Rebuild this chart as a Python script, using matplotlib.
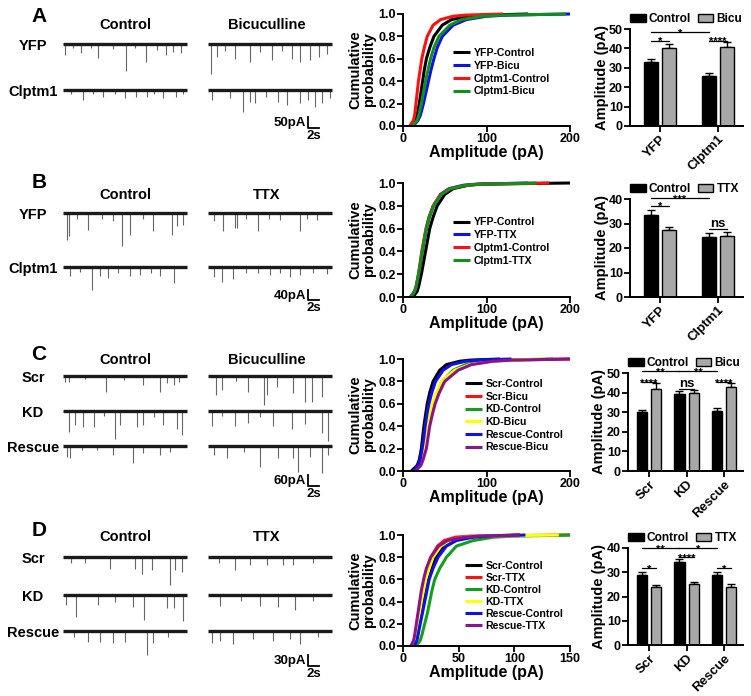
import numpy as np
import matplotlib
matplotlib.use("Agg")
import matplotlib.pyplot as plt
from matplotlib.patches import Patch

plt.rcParams['font.family'] = ['Liberation Sans', 'DejaVu Sans']
plt.rcParams['font.weight'] = 'bold'
plt.rcParams['axes.labelweight'] = 'bold'
plt.rcParams['axes.linewidth'] = 1.4

W, H = 751, 696

# ---------------- trace events: (time s, amplitude pA) ----------------
TRACE_DUR = 22.5
A_YFP_CTL = [(0.4, 50), (1.8, 20), (3.2, 42), (5.0, 18), (6.4, 65), (9.0, 22), (11.5, 121), (13.0, 20),
             (15.0, 80), (17.0, 25), (18.8, 50), (20.0, 35), (21.5, 42)]
A_CLP_CTL = [(1.5, 18), (3.6, 45), (5.5, 20), (7.3, 30), (9.5, 18), (11.2, 38), (13.3, 30), (15.2, 30),
             (16.5, 20), (18.1, 38), (20.6, 30), (21.8, 18)]
A_YFP_BIC = [(0.5, 136), (1.6, 60), (3.0, 30), (4.9, 68), (7.6, 82), (9.5, 35), (11.6, 73), (13.5, 30),
             (15.2, 68), (16.7, 82), (18.5, 73), (20.1, 60), (21.6, 45)]
A_CLP_BIC = [(0.7, 45), (4.0, 38), (6.3, 98), (7.6, 53), (8.5, 60), (10.5, 30), (12.8, 53), (14.3, 68),
             (16.7, 60), (18.2, 45), (19.5, 76), (20.7, 60), (22.2, 38)]

B_YFP_CTL = [(0.7, 107), (1.0, 93), (2.5, 25), (4.6, 67), (7.0, 25), (9.0, 30), (10.7, 133), (12.1, 87),
             (14.5, 25), (16.4, 73), (19.8, 87), (20.7, 53), (21.9, 47)]
B_YFP_TTX = [(1.0, 33), (2.8, 73), (4.9, 60), (5.3, 60), (7.0, 25), (9.1, 73), (11.0, 22), (13.1, 27),
             (16.7, 73), (18.0, 22), (19.8, 27)]
B_CLP_CTL = [(1.3, 37), (3.0, 20), (5.2, 91), (6.7, 37), (8.2, 44), (10.0, 22), (12.2, 37), (14.0, 31),
             (16.0, 22), (17.6, 37), (20.1, 64)]
B_CLP_TTX = [(1.0, 40), (2.5, 60), (4.6, 47), (7.0, 25), (9.0, 22), (11.3, 33), (13.0, 22), (14.9, 40),
             (16.7, 33), (19.0, 22), (21.6, 27)]

C_SCR_CTL = [(0.4, 31), (1.0, 31), (4.0, 15), (7.9, 86), (11.0, 20), (14.6, 49), (17.6, 86), (18.9, 40),
             (20.1, 49), (21.0, 31)]
C_SCR_BIC = [(1.5, 104), (2.5, 76), (5.0, 30), (7.3, 86), (10.1, 158), (10.7, 104), (12.5, 58), (15.5, 95),
             (17.6, 140), (18.9, 140), (20.7, 113)]
C_KD_CTL = [(1.0, 115), (2.2, 78), (3.7, 87), (5.6, 87), (7.5, 30), (9.5, 151), (10.4, 78), (13.4, 87),
            (14.6, 78), (16.5, 35), (18.2, 78), (20.7, 97), (21.6, 133)]
C_KD_BIC = [(0.7, 82), (2.5, 30), (4.9, 82), (7.3, 64), (9.5, 35), (11.9, 82), (15.2, 100), (17.6, 73),
            (20.7, 118), (21.9, 164)]
C_RES_CTL = [(0.7, 58), (1.3, 67), (3.5, 20), (6.1, 22), (9.1, 49), (12.7, 95), (14.6, 40), (17.6, 49),
             (19.5, 31)]
C_RES_BIC = [(1.0, 49), (3.4, 67), (6.5, 35), (9.5, 113), (12.8, 67), (15.5, 67), (16.4, 140), (18.5, 58),
             (20.7, 149), (21.9, 49)]

D_SCR_CTL = [(1.5, 15), (4.0, 15), (8.5, 32), (13.1, 32), (14.3, 45), (16.1, 36), (19.5, 77), (20.4, 36),
             (21.6, 41)]
D_SCR_TTX = [(2.0, 15), (4.9, 36), (7.6, 23), (10.7, 23), (13.7, 23), (15.5, 23), (19.0, 15)]
D_KD_CTL = [(0.5, 27), (2.4, 59), (6.4, 27), (9.5, 20), (12.8, 32), (14.7, 68), (18.9, 36), (20.1, 36),
            (21.8, 72)]
D_KD_TTX = [(2.2, 29), (6.0, 15), (9.5, 29), (12.8, 33), (15.8, 42), (19.0, 15)]
D_RES_CTL = [(2.0, 15), (4.6, 29), (6.7, 29), (9.1, 33), (11.3, 29), (15.2, 65), (16.4, 33), (19.0, 15)]
D_RES_TTX = [(0.7, 32), (2.2, 27), (4.6, 36), (8.2, 23), (11.9, 27), (14.9, 23), (16.7, 36), (20.0, 15)]

# ---------------- cumulative distributions ----------------
P = [0, 0.05, 0.1, 0.2, 0.3, 0.4, 0.5, 0.6, 0.7, 0.8, 0.9, 0.95, 0.98, 0.99, 1.0]
CDF_A = {
    'YFP-Control': [10, 15, 17, 19.5, 21.5, 23.5, 25.5, 28, 32, 37, 47, 58, 78, 95, 150],
    'YFP-Bicu': [12, 18, 21, 24.5, 27.5, 30.5, 33.5, 37, 41, 47, 60, 76, 100, 125, 200],
    'Clptm1-Control': [8, 12.5, 14, 15.5, 17, 18.5, 20.5, 22.5, 25.5, 29, 36, 45, 60, 75, 120],
    'Clptm1-Bicu': [11, 17, 19, 22, 24.5, 27, 30, 33, 37, 43, 56, 70, 95, 120, 195],
}
CDF_B = {
    'YFP-Control': [12, 17, 19, 22, 24.5, 27, 29.5, 32, 36, 41, 50, 60, 78, 95, 200],
    'YFP-TTX': [9, 14, 16, 19, 21, 23, 25.5, 28, 31.5, 36.5, 45, 55, 72, 88, 150],
    'Clptm1-Control': [9, 14, 16, 18.5, 20.5, 22.5, 25, 27.5, 31, 36, 45, 56, 75, 92, 175],
    'Clptm1-TTX': [9, 14, 16, 18.5, 21, 23, 25.5, 28, 31.5, 36.5, 46, 57, 75, 92, 160],
}
CDF_C = {
    'Scr-Control': [10, 17, 19.5, 22, 23.5, 25, 27, 29, 32, 36, 44, 52, 68, 80, 116],
    'Scr-Bicu': [14, 20, 22.5, 26, 28, 30, 33, 36, 41, 48, 64, 80, 104, 125, 200],
    'KD-Control': [13, 19.5, 22, 26, 28, 30, 33, 36, 40.5, 47, 60, 75, 95, 115, 180],
    'KD-Bicu': [13, 19, 21.5, 25, 27, 29, 32, 35, 40, 46, 62, 80, 105, 130, 170],
    'Rescue-Control': [12, 18, 20.5, 23, 25, 26.5, 28.5, 31, 34.5, 39, 48, 58, 75, 90, 130],
    'Rescue-Bicu': [15, 21.5, 24, 28, 30, 32, 35, 38.5, 43.5, 50, 66, 82, 108, 130, 200],
}
CDF_D = {
    'Scr-Control': [9, 12, 13, 14.5, 16.5, 18, 20, 22, 25, 29, 36, 44, 58, 70, 105],
    'Scr-TTX': [8, 10.5, 11.5, 12.5, 14, 15.5, 17, 19, 21.5, 25, 31, 37, 47, 60, 150],
    'KD-Control': [12, 15.5, 17, 19.5, 22, 24, 26, 28.5, 33, 39, 48, 63, 81, 100, 150],
    'KD-TTX': [8, 10.5, 11.5, 13, 15, 16.5, 18.5, 20.5, 23.5, 27, 34, 42, 55, 70, 140],
    'Rescue-Control': [10, 12.5, 13.5, 15.5, 17.5, 19.5, 21.5, 23.5, 27, 31.5, 39, 48, 63, 78, 110],
    'Rescue-TTX': [7, 9.5, 10.5, 12, 13.5, 15, 16.5, 18.5, 21, 25, 32, 40, 55, 68, 105],
}
COLORS4 = ['#000000', '#1010e8', '#ff1010', '#10901a']
COLORS6 = ['#000000', '#ff1010', '#10a01a', '#ffff00', '#1010e8', '#8a1490']

# ---------------- bar summaries (mean, sem) ----------------
A_GROUPS = ['YFP', 'Clptm1']
A_CTL, A_CTL_SEM = [33.0, 25.8], [1.3, 1.3]
A_TRT, A_TRT_SEM = [40.0, 40.5], [2.3, 2.6]
B_GROUPS = ['YFP', 'Clptm1']
B_CTL, B_CTL_SEM = [33.6, 24.5], [1.8, 1.6]
B_TRT, B_TRT_SEM = [27.2, 24.8], [1.2, 1.6]
C_GROUPS = ['Scr', 'KD', 'Rescue']
C_CTL, C_CTL_SEM = [30.3, 39.5, 30.5], [1.0, 1.3, 1.4]
C_TRT, C_TRT_SEM = [42.0, 39.8, 42.9], [2.9, 1.4, 2.2]
D_GROUPS = ['Scr', 'KD', 'Rescue']
D_CTL, D_CTL_SEM = [29.0, 34.2, 29.0], [1.1, 1.4, 1.1]
D_TRT, D_TRT_SEM = [24.1, 25.1, 24.1], [0.7, 0.8, 1.0]

# significance: ((group, 0=ctl/1=trt), (group, side), y, label)
A_SIG = [((0, 0), (0, 1), 44.0, '*'), ((0, 0), (1, 0), 48.3, '*'), ((1, 0), (1, 1), 44.0, '****')]
B_SIG = [((0, 0), (0, 1), 37.3, '*'), ((0, 0), (1, 0), 40.4, '***'), ((1, 0), (1, 1), 27.8, 'ns')]
C_SIG = [((0, 0), (1, 0), 50.8, '**'), ((1, 0), (2, 0), 50.8, '**'), ((0, 0), (0, 1), 45.4, '****'),
         ((1, 0), (1, 1), 41.7, 'ns'), ((2, 0), (2, 1), 45.4, '****')]
D_SIG = [((0, 0), (1, 0), 40.0, '**'), ((1, 0), (2, 0), 40.0, '*'), ((1, 0), (1, 1), 36.1, '****'),
         ((0, 0), (0, 1), 31.7, '*'), ((2, 0), (2, 1), 31.7, '*')]

fig = plt.figure(figsize=(W / 100, H / 100), dpi=100)


def px_box(x0, y0, x1, y1):
    return [x0 / W, 1 - y1 / H, (x1 - x0) / W, (y1 - y0) / H]


def ftext(x, y, s, **kw):
    fig.text(x / W, 1 - y / H, s, **kw)


TRACE_X0 = 63      # px where control traces begin
TRT_X0 = 208       # px where treatment traces begin
S_PX = 5.5         # px per second
SCALE_X = 308


def draw_traces(box, k, rows, traces, scale_pa, bar_bottom):
    x0, y0, x1, y1 = box
    ax = fig.add_axes(px_box(*box))
    ax.axis('off')
    base0 = rows[0]
    ax.set_xlim((x0 - TRACE_X0) / S_PX, (x1 - TRACE_X0) / S_PX)
    ax.set_ylim((base0 - y1) / k, (base0 - y0) / k)
    trt_off = (TRT_X0 - TRACE_X0) / S_PX
    for r, (ctl, trt) in zip(rows, traces):
        yoff = (base0 - r) / k
        for off, ev in ((0.0, ctl), (trt_off, trt)):
            t = np.array([e[0] for e in ev]) + off
            a = np.array([e[1] for e in ev])
            ax.vlines(t, yoff - a, yoff, color='0.4', lw=0.8)
            ax.plot([off, off + TRACE_DUR], [yoff, yoff], color='#1a1a1a', lw=2.4,
                    solid_capstyle='butt')
    xs = (SCALE_X - TRACE_X0) / S_PX
    yb = (base0 - bar_bottom) / k
    ax.plot([xs, xs, xs + 2], [yb + scale_pa, yb, yb], color='k', lw=1.3)
    ax.text(xs - 0.3, yb + scale_pa * 0.45, f'{scale_pa}pA', ha='right', va='center', fontsize=9.5)
    ax.text(xs + 1.0, yb - 2 / k, '2s', ha='center', va='top', fontsize=9.5)


def draw_cdf(box, data, colors, xmax, xticks, leg_x, leg_y, labelspacing):
    ax = fig.add_axes(px_box(*box))
    for (name, vals), c in zip(data.items(), colors):
        ax.plot(vals, P, color=c, lw=2.2, label=name, solid_capstyle='butt', clip_on=False)
    ax.set_xlim(0, xmax)
    ax.set_ylim(0, 1.0)
    ax.set_xticks(xticks)
    ax.set_yticks([0, 0.2, 0.4, 0.6, 0.8, 1.0])
    ax.set_yticklabels(['0.0', '0.2', '0.4', '0.6', '0.8', '1.0'])
    ax.spines[['top', 'right']].set_visible(False)
    ax.tick_params(direction='out', length=4, width=1.3, labelsize=9, pad=1.2)
    ax.set_ylabel('Cumulative\nprobability', fontsize=10.5, linespacing=1.0)
    ax.yaxis.set_label_coords(-0.16, 0.5)
    ax.set_xlabel('Amplitude (pA)', fontsize=11.5)
    ax.xaxis.set_label_coords(0.5, -0.17)
    ax.legend(loc='upper left', bbox_to_anchor=(leg_x, leg_y), frameon=False, fontsize=7.6,
              handlelength=1.6, handletextpad=0.35, labelspacing=labelspacing, borderaxespad=0,
              borderpad=0)
    return ax


def draw_bars(box, groups, ctl, ctl_sem, trt, trt_sem, trt_name, ymax, xlim, width, off, sig):
    x0, y0, x1, y1 = box
    ax = fig.add_axes(px_box(*box))
    g = np.arange(len(groups))
    ax.bar(g - off, ctl, width, color='black', edgecolor='black', lw=1.0, zorder=2)
    ax.bar(g + off, trt, width, color='#a8a8a8', edgecolor='black', lw=1.0, zorder=2)
    zeros = np.zeros(len(groups))
    ax.errorbar(g - off, ctl, yerr=[zeros, ctl_sem], fmt='none', ecolor='black', elinewidth=1.0,
                capsize=3, capthick=1.0, zorder=1)
    ax.errorbar(g + off, trt, yerr=[zeros, trt_sem], fmt='none', ecolor='black', elinewidth=1.0,
                capsize=3, capthick=1.0, zorder=1)
    ax.set_xlim(*xlim)
    ax.set_ylim(0, ymax)
    ax.set_yticks(np.arange(0, ymax + 1, 10))
    ax.set_xticks(g)
    ax.set_xticklabels(groups, rotation=45, ha='right', rotation_mode='anchor', fontsize=9.5)
    ax.spines[['top', 'right']].set_visible(False)
    ax.tick_params(direction='out', length=4, width=1.3, pad=1.2)
    ax.tick_params(axis='y', labelsize=9)
    ax.set_ylabel('Amplitude (pA)', fontsize=10.5)
    ax.yaxis.set_label_coords(-0.19, 0.5)
    hpx = y1 - y0
    ax.legend([Patch(facecolor='black', edgecolor='black'), Patch(facecolor='#a8a8a8', edgecolor='black')],
              ['Control', trt_name], loc='center left', bbox_to_anchor=(0.0, 1 + 10 / hpx),
              ncol=2, frameon=False, fontsize=8.6, handlelength=1.3, handleheight=0.7,
              handletextpad=0.25, columnspacing=0.6, borderaxespad=0, borderpad=0)

    def pos(gs):
        return gs[0] + (2 * gs[1] - 1) * off

    for a, b, y, lab in sig:
        xa, xb = pos(a), pos(b)
        ax.plot([xa, xb], [y, y], color='black', lw=0.9, clip_on=False)
        if lab == 'ns':
            ax.annotate(lab, ((xa + xb) / 2, y), xytext=(0, 1.5), textcoords='offset points',
                        ha='center', va='baseline', fontsize=9.5, annotation_clip=False)
        else:
            ax.annotate(lab, ((xa + xb) / 2, y), xytext=(0, -3.2), textcoords='offset points',
                        ha='center', va='baseline', fontsize=8, annotation_clip=False)
    return ax


# ---------------- panel A ----------------
draw_traces((0, 0, 345, 165), 0.22, [44, 90],
            [(A_YFP_CTL, A_YFP_BIC), (A_CLP_CTL, A_CLP_BIC)], 50, 128)
draw_cdf((403, 14, 570, 126), CDF_A, COLORS4, 200, [0, 100, 200], 0.30, 0.70, 0.28)
draw_bars((630, 29, 743, 126), A_GROUPS, A_CTL, A_CTL_SEM, A_TRT, A_TRT_SEM, 'Bicu', 50,
          (-0.52, 1.43), 0.24, 0.16, A_SIG)

# ---------------- panel B ----------------
draw_traces((0, 170, 345, 335), 0.25, [213, 267],
            [(B_YFP_CTL, B_YFP_TTX), (B_CLP_CTL, B_CLP_TTX)], 40, 300)
draw_cdf((403, 183, 570, 297), CDF_B, COLORS4, 200, [0, 100, 200], 0.30, 0.70, 0.28)
draw_bars((630, 199, 743, 297), B_GROUPS, B_CTL, B_CTL_SEM, B_TRT, B_TRT_SEM, 'TTX', 40,
          (-0.52, 1.43), 0.24, 0.16, B_SIG)

# ---------------- panel C ----------------
draw_traces((0, 340, 345, 510), 0.183, [376, 411, 446],
            [(C_SCR_CTL, C_SCR_BIC), (C_KD_CTL, C_KD_BIC), (C_RES_CTL, C_RES_BIC)], 60, 486)
draw_cdf((403, 359, 570, 471), CDF_C, COLORS6, 200, [0, 100, 200], 0.37, 0.82, 0.25)
draw_bars((628, 373, 743, 471), C_GROUPS, C_CTL, C_CTL_SEM, C_TRT, C_TRT_SEM, 'Bicu', 50,
          (-0.56, 2.5), 0.27, 0.19, C_SIG)

# ---------------- panel D ----------------
draw_traces((0, 515, 345, 690), 0.367, [557, 595, 631],
            [(D_SCR_CTL, D_SCR_TTX), (D_KD_CTL, D_KD_TTX), (D_RES_CTL, D_RES_TTX)], 30, 666)
draw_cdf((403, 535, 570, 646), CDF_D, COLORS6, 150, [0, 50, 100, 150], 0.37, 0.77, 0.2)
draw_bars((628, 548, 743, 645), D_GROUPS, D_CTL, D_CTL_SEM, D_TRT, D_TRT_SEM, 'TTX', 40,
          (-0.56, 2.5), 0.27, 0.19, D_SIG)

# ---------------- text labels ----------------
PANEL_ROWS = {
    'A': (17, 25, 'Bicuculline', [(46, 'YFP'), (92, 'Clptm1')]),
    'B': (183, 195, 'TTX', [(215, 'YFP'), (269, 'Clptm1')]),
    'C': (355, 360, 'Bicuculline', [(378, 'Scr'), (413, 'KD'), (448, 'Rescue')]),
    'D': (530, 537, 'TTX', [(559, 'Scr'), (597, 'KD'), (633, 'Rescue')]),
}
for letter, (ly, hy, trt_title, rows) in PANEL_ROWS.items():
    ftext(39, ly, letter, ha='center', va='center', fontsize=15)
    ftext(125, hy, 'Control', ha='center', va='center', fontsize=10.5)
    ftext(267, hy, trt_title, ha='center', va='center', fontsize=10.5)
    for y, lab in rows:
        ftext(33, y, lab, ha='center', va='center', fontsize=10.5)

fig.savefig('out.png', dpi=100)
